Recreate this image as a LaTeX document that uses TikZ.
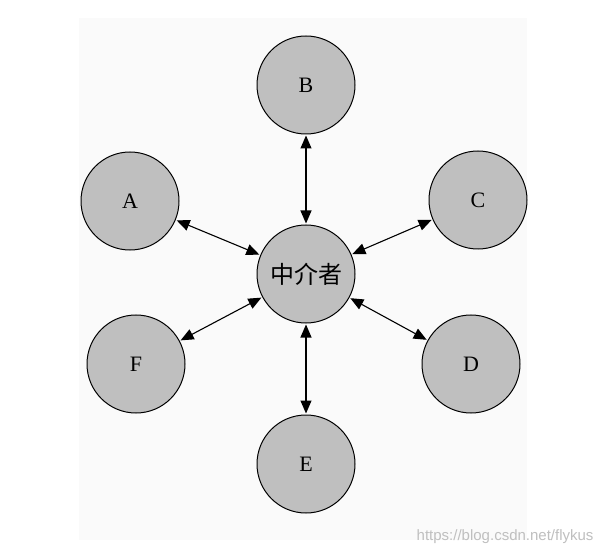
\documentclass[tikz,border=0pt]{standalone}
\usepackage{fontspec}
\setmainfont{Liberation Serif}
\newfontfamily\cjk{Noto Sans CJK SC}
\newfontfamily\wmfont{Liberation Sans}
\usetikzlibrary{arrows.meta}
\begin{document}
\begin{tikzpicture}[x=1pt,y=-1pt,
  circ/.style={circle,draw,line width=1pt,fill=gray!50,minimum size=98pt,inner sep=0pt,font=\fontsize{22}{22}\selectfont},
  link/.style={line width=1.1pt,{Triangle[length=13pt,width=11pt]}-{Triangle[length=13pt,width=11pt]},shorten <=1pt,shorten >=1pt}]
\useasboundingbox (0,0) rectangle (600,556);
\fill[white] (0,0) rectangle (600,556);
\fill[black!2] (79,18) rectangle (527,540);
\node[circ] (M) at (306,274) {\cjk\fontsize{24}{24}\selectfont 中介者};
\node[circ] (B) at (306,85) {B};
\node[circ] (A) at (130,201) {A};
\node[circ] (C) at (478,200) {C};
\node[circ] (F) at (136,364) {F};
\node[circ] (D) at (471,364) {D};
\node[circ] (E) at (306,464) {E};
\foreach \n in {A,B,C,D,E,F} \draw[link] (\n) -- (M);
\node[anchor=east,text=black!25,font=\wmfont\fontsize{15}{15}\selectfont] (W) at (597,537) {https://blog.csdn.net/flykus};
\end{tikzpicture}
\end{document}
